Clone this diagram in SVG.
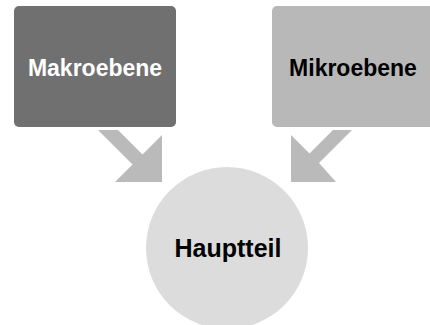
<svg xmlns="http://www.w3.org/2000/svg" width="430" height="325" viewBox="0 0 430 325">
<style>
.lbl{font-family:"Liberation Sans",Arial,sans-serif;font-weight:bold;text-anchor:middle}
.arrow{fill:#bababa}
</style>
<rect width="430" height="325" fill="#ffffff"/>
<g id="connectors">
<polygon class="arrow" points="98,130 118,130 142.5,154.5 162,135 162,182 115,182 132.5,164.5"/>
<polygon class="arrow" points="352,130 333,130 309.5,153.5 291,135 291,182 336,182 319,163"/>
</g>
<g id="makroebene">
<rect x="14" y="6" width="162" height="121" rx="5" fill="#707070"/>
<text class="lbl" x="95" y="75.5" font-size="23" fill="#ffffff">Makroebene</text>
</g>
<g id="mikroebene">
<rect x="272" y="6" width="162" height="121" rx="5" fill="#b8b8b8"/>
<text class="lbl" x="353" y="75.5" font-size="23" fill="#000000">Mikroebene</text>
</g>
<g id="hauptteil">
<circle cx="227" cy="248" r="81" fill="#dcdcdc"/>
<text class="lbl" x="228" y="257" font-size="25" fill="#000000">Hauptteil</text>
</g>
</svg>
